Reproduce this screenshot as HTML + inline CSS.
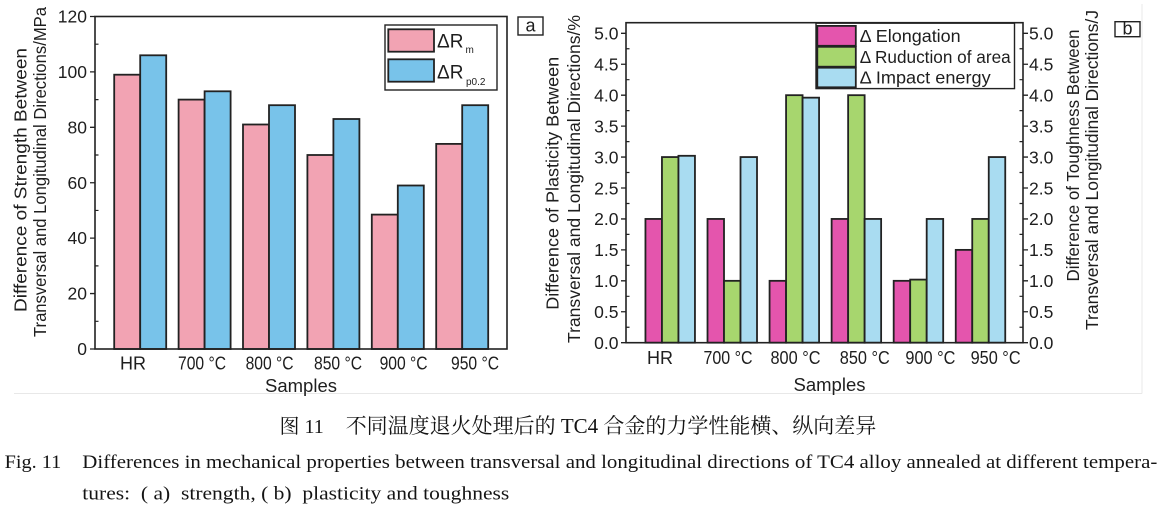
<!DOCTYPE html>
<html>
<head>
<meta charset="utf-8">
<style>
html,body{margin:0;padding:0;background:#fff;}
svg{display:block;}
.s{font-family:"Liberation Sans",Arial,sans-serif;fill:#1e1e1e;}
.c{font-family:"Liberation Serif","Noto Serif CJK SC",serif;fill:#141414;}
</style>
</head>
<body>
<svg width="1164" height="511" viewBox="0 0 1164 511" xmlns="http://www.w3.org/2000/svg">
<rect x="0" y="0" width="1164" height="511" fill="#fff"/>
<path d="M14 393.5H1142M1142 4V393.5" stroke="#e8e8e8" stroke-width="1" fill="none"/>

<!-- ================= LEFT CHART (a) ================= -->
<g stroke="#222" stroke-width="1.8">
  <rect x="114.2" y="74.7" width="26" height="274.3" fill="#f2a3b3"/>
  <rect x="140.2" y="55.3" width="26" height="293.7" fill="#78c3ea"/>
  <rect x="178.6" y="99.6" width="26" height="249.4" fill="#f2a3b3"/>
  <rect x="204.6" y="91.3" width="26" height="257.7" fill="#78c3ea"/>
  <rect x="243.0" y="124.5" width="26" height="224.5" fill="#f2a3b3"/>
  <rect x="269.0" y="105.2" width="26" height="243.8" fill="#78c3ea"/>
  <rect x="307.4" y="155.0" width="26" height="194.0" fill="#f2a3b3"/>
  <rect x="333.4" y="119.0" width="26" height="230.0" fill="#78c3ea"/>
  <rect x="371.8" y="214.6" width="26" height="134.4" fill="#f2a3b3"/>
  <rect x="397.8" y="185.5" width="26" height="163.5" fill="#78c3ea"/>
  <rect x="436.2" y="143.9" width="26" height="205.1" fill="#f2a3b3"/>
  <rect x="462.2" y="105.2" width="26" height="243.8" fill="#78c3ea"/>
</g>
<rect x="95" y="16.5" width="412" height="332.5" fill="none" stroke="#222" stroke-width="1.6"/>
<path d="M90 349H95M90 293.58H95M90 238.16H95M90 182.74H95M90 127.32H95M90 71.9H95M90 16.48H95" stroke="#222" stroke-width="1.3"/>
<path d="M95 321.29H98.5M95 265.87H98.5M95 210.45H98.5M95 155.03H98.5M95 99.61H98.5M95 44.19H98.5" stroke="#222" stroke-width="1.2"/>
<g class="s" font-size="17.5" text-anchor="end">
  <text x="87" y="355">0</text>
  <text x="87" y="299.6">20</text>
  <text x="87" y="244.2">40</text>
  <text x="87" y="188.8">60</text>
  <text x="87" y="133.4">80</text>
  <text x="87" y="78">100</text>
  <text x="87" y="22.5">120</text>
</g>
<g class="s" font-size="18" text-anchor="middle">
  <text x="133" y="369.5">HR</text>
  <text x="202" y="369.5" textLength="48" lengthAdjust="spacingAndGlyphs">700 °C</text>
  <text x="269.6" y="369.5" textLength="48" lengthAdjust="spacingAndGlyphs">800 °C</text>
  <text x="338" y="369.5" textLength="48" lengthAdjust="spacingAndGlyphs">850 °C</text>
  <text x="403.6" y="369.5" textLength="48" lengthAdjust="spacingAndGlyphs">900 °C</text>
  <text x="475" y="369.5" textLength="48" lengthAdjust="spacingAndGlyphs">950 °C</text>
  <text x="301" y="392" font-size="18.5">Samples</text>
</g>
<g class="s" font-size="17.5" text-anchor="middle">
  <text transform="translate(26.5,180) rotate(-90)" textLength="264" lengthAdjust="spacingAndGlyphs">Difference of Strength  Between</text>
  <text transform="translate(46,172) rotate(-90)" textLength="330" lengthAdjust="spacingAndGlyphs">Transversal and Longitudinal Directions/MPa</text>
</g>
<!-- legend a -->
<rect x="385" y="25" width="112" height="65" fill="#fff" stroke="#222" stroke-width="1.4"/>
<rect x="388.3" y="29.3" width="45.7" height="22.4" fill="#f2a3b3" stroke="#222" stroke-width="1.8"/>
<rect x="388.3" y="59.3" width="45.7" height="22.4" fill="#78c3ea" stroke="#222" stroke-width="1.8"/>
<g class="s">
  <text x="437" y="47.5" font-size="19">ΔR</text>
  <text x="465.5" y="53" font-size="10">m</text>
  <text x="437" y="78.5" font-size="19">ΔR</text>
  <text x="466" y="85" font-size="10">p0.2</text>
</g>
<rect x="518" y="17" width="25" height="18" fill="#fff" stroke="#222" stroke-width="1.4"/>
<text class="s" x="530.5" y="31.5" font-size="18" text-anchor="middle">a</text>

<!-- ================= RIGHT CHART (b) ================= -->
<g stroke="#222" stroke-width="1.8">
  <rect x="645.45" y="218.94" width="16.5" height="123.76" fill="#e455ad"/>
  <rect x="661.95" y="157.06" width="16.5" height="185.64" fill="#a7d66e"/>
  <rect x="678.45" y="155.8" width="16.5" height="186.9" fill="#a9dcf1"/>

  <rect x="707.51" y="218.94" width="16.5" height="123.76" fill="#e455ad"/>
  <rect x="724.01" y="280.82" width="16.5" height="61.88" fill="#a7d66e"/>
  <rect x="740.51" y="157.06" width="16.5" height="185.64" fill="#a9dcf1"/>

  <rect x="769.57" y="280.82" width="16.5" height="61.88" fill="#e455ad"/>
  <rect x="786.07" y="95.18" width="16.5" height="247.52" fill="#a7d66e"/>
  <rect x="802.57" y="97.66" width="16.5" height="245.04" fill="#a9dcf1"/>

  <rect x="831.63" y="218.94" width="16.5" height="123.76" fill="#e455ad"/>
  <rect x="848.13" y="95.18" width="16.5" height="247.52" fill="#a7d66e"/>
  <rect x="864.63" y="218.94" width="16.5" height="123.76" fill="#a9dcf1"/>

  <rect x="893.69" y="280.82" width="16.5" height="61.88" fill="#e455ad"/>
  <rect x="910.19" y="279.6" width="16.5" height="63.1" fill="#a7d66e"/>
  <rect x="926.69" y="218.94" width="16.5" height="123.76" fill="#a9dcf1"/>

  <rect x="955.75" y="249.88" width="16.5" height="92.82" fill="#e455ad"/>
  <rect x="972.25" y="218.94" width="16.5" height="123.76" fill="#a7d66e"/>
  <rect x="988.75" y="157.06" width="16.5" height="185.64" fill="#a9dcf1"/>
</g>
<rect x="626" y="22.7" width="397" height="320" fill="none" stroke="#222" stroke-width="1.6"/>
<path d="M621 342.7H626M621 311.76H626M621 280.82H626M621 249.88H626M621 218.94H626M621 188H626M621 157.06H626M621 126.12H626M621 95.18H626M621 64.24H626M621 33.3H626
M1023 342.7H1028M1023 311.76H1028M1023 280.82H1028M1023 249.88H1028M1023 218.94H1028M1023 188H1028M1023 157.06H1028M1023 126.12H1028M1023 95.18H1028M1023 64.24H1028M1023 33.3H1028" stroke="#222" stroke-width="1.3"/>
<path d="M626 327.23H629.5M626 296.29H629.5M626 265.35H629.5M626 234.41H629.5M626 203.47H629.5M626 172.53H629.5M626 141.59H629.5M626 110.65H629.5M626 79.71H629.5M626 48.77H629.5
M1019.5 327.23H1023M1019.5 296.29H1023M1019.5 265.35H1023M1019.5 234.41H1023M1019.5 203.47H1023M1019.5 172.53H1023M1019.5 141.59H1023M1019.5 110.65H1023M1019.5 79.71H1023M1019.5 48.77H1023" stroke="#222" stroke-width="1.2"/>
<g class="s" font-size="17.5" text-anchor="end">
  <text x="618.5" y="349">0.0</text>
  <text x="618.5" y="318">0.5</text>
  <text x="618.5" y="287.1">1.0</text>
  <text x="618.5" y="256.2">1.5</text>
  <text x="618.5" y="225.2">2.0</text>
  <text x="618.5" y="194.3">2.5</text>
  <text x="618.5" y="163.4">3.0</text>
  <text x="618.5" y="132.4">3.5</text>
  <text x="618.5" y="101.5">4.0</text>
  <text x="618.5" y="70.5">4.5</text>
  <text x="618.5" y="39.6">5.0</text>
</g>
<g class="s" font-size="17.5" text-anchor="start">
  <text x="1029" y="349">0.0</text>
  <text x="1029" y="318">0.5</text>
  <text x="1029" y="287.1">1.0</text>
  <text x="1029" y="256.2">1.5</text>
  <text x="1029" y="225.2">2.0</text>
  <text x="1029" y="194.3">2.5</text>
  <text x="1029" y="163.4">3.0</text>
  <text x="1029" y="132.4">3.5</text>
  <text x="1029" y="101.5">4.0</text>
  <text x="1029" y="70.5">4.5</text>
  <text x="1029" y="39.6">5.0</text>
</g>
<g class="s" font-size="18" text-anchor="middle">
  <text x="660" y="364">HR</text>
  <text x="728" y="364" textLength="49" lengthAdjust="spacingAndGlyphs">700 °C</text>
  <text x="795.5" y="364" textLength="50" lengthAdjust="spacingAndGlyphs">800 °C</text>
  <text x="864.8" y="364" textLength="50" lengthAdjust="spacingAndGlyphs">850 °C</text>
  <text x="930.4" y="364" textLength="50" lengthAdjust="spacingAndGlyphs">900 °C</text>
  <text x="995.6" y="364" textLength="50" lengthAdjust="spacingAndGlyphs">950 °C</text>
  <text x="829.5" y="391" font-size="18.5">Samples</text>
</g>
<g class="s" font-size="17.5" text-anchor="middle">
  <text transform="translate(558.5,183.3) rotate(-90)" textLength="253" lengthAdjust="spacingAndGlyphs">Difference of Plasticity Between</text>
  <text transform="translate(580,179) rotate(-90)" textLength="328" lengthAdjust="spacingAndGlyphs">Transversal and Longitudinal Directions/%</text>
  <text transform="translate(1079,155.5) rotate(-90)" textLength="252" lengthAdjust="spacingAndGlyphs">Difference of  Toughness Between</text>
  <text transform="translate(1098,170) rotate(-90)" textLength="320" lengthAdjust="spacingAndGlyphs">Transversal and Longitudinal Directions/J</text>
</g>
<!-- legend b -->
<rect x="816" y="23.2" width="198.5" height="65.4" fill="#fff" stroke="#222" stroke-width="1.4"/>
<rect x="817.3" y="25.9" width="38.5" height="19.9" fill="#e455ad" stroke="#222" stroke-width="1.8"/>
<rect x="817.3" y="46.8" width="38.5" height="19.9" fill="#a7d66e" stroke="#222" stroke-width="1.8"/>
<rect x="817.3" y="67.7" width="38.5" height="19.6" fill="#a9dcf1" stroke="#222" stroke-width="1.8"/>
<g class="s" font-size="17.5">
  <text x="859.7" y="42" textLength="101" lengthAdjust="spacingAndGlyphs">Δ Elongation</text>
  <text x="859.7" y="63" textLength="151" lengthAdjust="spacingAndGlyphs">Δ Ruduction of area</text>
  <text x="859.7" y="83.5" textLength="131" lengthAdjust="spacingAndGlyphs">Δ Impact energy</text>
</g>
<rect x="1115" y="21.7" width="25" height="15" fill="#fff" stroke="#222" stroke-width="1.4"/>
<text class="s" x="1127.5" y="34.5" font-size="18" text-anchor="middle">b</text>

<!-- ================= CAPTIONS ================= -->
<text class="c" x="279.5" y="433" font-size="20">图 11</text>
<text class="c" x="345.7" y="433" font-size="21" textLength="530.6" lengthAdjust="spacingAndGlyphs">不同温度退火处理后的 TC4 合金的力学性能横、纵向差异</text>
<text class="c" x="4.6" y="468" font-size="18.5" textLength="56.6" lengthAdjust="spacingAndGlyphs">Fig. 11</text>
<text class="c" x="82.3" y="468" font-size="18.5" textLength="1075" lengthAdjust="spacingAndGlyphs">Differences in mechanical properties between transversal and longitudinal directions of TC4 alloy annealed at different tempera-</text>
<text class="c" x="82.3" y="499.5" font-size="18.5" textLength="427" lengthAdjust="spacingAndGlyphs" xml:space="preserve">tures:  ( a)  strength, ( b)  plasticity and toughness</text>
</svg>
</body>
</html>
